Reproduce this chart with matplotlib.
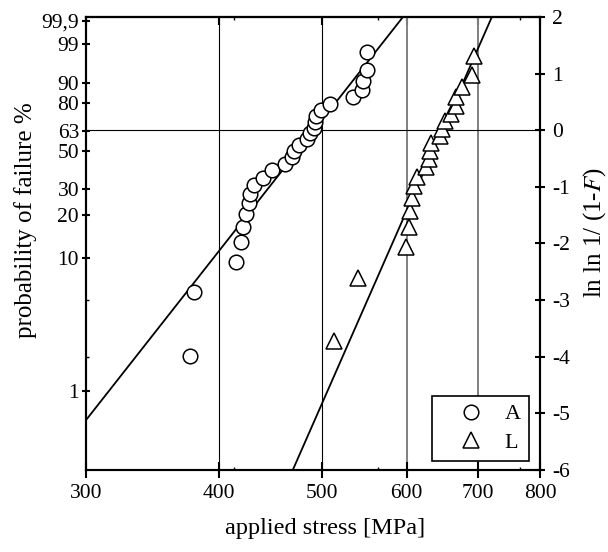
import numpy as np
import matplotlib
matplotlib.use('Agg')
import matplotlib.pyplot as plt
from matplotlib.ticker import FixedLocator, FixedFormatter, NullFormatter

plt.rcParams['font.family'] = ['Liberation Serif', 'DejaVu Serif']
plt.rcParams['mathtext.fontset'] = 'stix'
plt.rcParams['axes.unicode_minus'] = False

# series A (circles): stress [MPa] and probability of failure [%]
stress_A = [376, 379, 415, 419, 421, 424, 427, 428, 431, 440, 448, 461, 468, 470,
            475, 484, 487, 491, 492, 493, 498, 508, 534, 545, 546, 550, 551]
prob_A = [1.85, 5.56, 9.26, 12.96, 16.67, 20.37, 24.07, 27.78, 31.48, 35.19, 38.89,
          42.59, 46.30, 50.00, 53.70, 57.41, 61.11, 64.81, 68.52, 72.22, 75.93,
          79.63, 83.33, 87.04, 90.74, 94.44, 98.15]

# series L (triangles)
stress_L = [513, 540, 599, 603, 604, 607, 610, 614, 626, 630, 631, 632, 644, 648,
            652, 660, 667, 668, 676, 691, 694]
prob_L = [2.38, 7.14, 11.90, 16.67, 21.43, 26.19, 30.95, 35.71, 40.48, 45.24, 50.00,
          54.76, 59.52, 64.29, 69.05, 73.81, 78.57, 83.33, 88.10, 92.86, 97.62]

# fitted Weibull lines (end points)
fit_A_stress = [300, 595]
fit_A_lnln = [-5.12, 2]
fit_L_stress = [469, 721]
fit_L_lnln = [-6, 2]

prob_ticks = [99.9, 99, 90, 80, 63, 50, 30, 20, 10, 1]
prob_labels = ['99,9', '99', '90', '80', '63', '50', '30', '20', '10', '1']
lnln_ticks = [-6, -5, -4, -3, -2, -1, 0, 1, 2]
stress_ticks = [300, 400, 500, 600, 700, 800]
stress_minor = [413, 564, 766]


def lnln(p):
    return np.log(-np.log(1 - np.asarray(p) / 100.0))


fig = plt.figure(figsize=(6.08, 5.52), dpi=100)
ax = fig.add_axes([0.1414, 0.1486, 0.7467, 0.8206])
ax.set_xscale('log')
ax.set_xlim(300, 800)
ax.set_ylim(-6, 2)

for s in [400, 500]:
    ax.axvline(s, color='black', lw=0.8, zorder=1)
for s in [600, 700]:
    ax.axvline(s, color='#808080', lw=1.4, zorder=1)
ax.axhline(0, color='black', lw=0.8, zorder=1)

ax.plot(fit_A_stress, fit_A_lnln, color='black', lw=1.3, zorder=2)
ax.plot(fit_L_stress, fit_L_lnln, color='black', lw=1.3, zorder=2)
ax.plot(stress_A, lnln(prob_A), 'o', ms=10.5, mfc='white', mec='black', mew=1.1,
        ls='none', label='A', zorder=3)
ax.plot(stress_L, lnln(prob_L), '^', ms=11, mfc='white', mec='black', mew=1.1,
        ls='none', label='L', zorder=3)

# x axis
ax.xaxis.set_major_locator(FixedLocator(stress_ticks))
ax.xaxis.set_major_formatter(FixedFormatter([str(s) for s in stress_ticks]))
ax.xaxis.set_minor_locator(FixedLocator(stress_minor))
ax.xaxis.set_minor_formatter(NullFormatter())
ax.tick_params(axis='x', which='major', direction='inout', length=12, width=1.5,
               labelsize=15.5, pad=4)
ax.tick_params(axis='x', which='minor', direction='in', length=2.5, width=1)

top = ax.secondary_xaxis('top')
top.xaxis.set_major_locator(FixedLocator(stress_ticks))
top.xaxis.set_minor_locator(FixedLocator(stress_minor))
top.xaxis.set_major_formatter(NullFormatter())
top.xaxis.set_minor_formatter(NullFormatter())
top.tick_params(axis='x', which='major', direction='in', length=6, width=1.5)
top.tick_params(axis='x', which='minor', direction='in', length=2.5, width=1)
top.spines['top'].set_linewidth(1.5)

# left axis: probability
ax.yaxis.set_major_locator(FixedLocator(lnln(prob_ticks)))
ax.yaxis.set_major_formatter(FixedFormatter(prob_labels))
ax.yaxis.set_minor_locator(FixedLocator([-3, -4]))
ax.tick_params(axis='y', which='major', direction='inout', length=6, width=1.5,
               labelsize=15.5, pad=2)
ax.tick_params(axis='y', which='minor', direction='in', length=2.5, width=1)

# right axis: ln ln 1/(1-F)
ax2 = ax.twinx()
ax2.set_ylim(-6, 2)
ax2.set_yticks(lnln_ticks)
ax2.set_yticklabels([str(v) for v in lnln_ticks])
ax2.tick_params(axis='y', direction='inout', length=7, width=1.5, labelsize=15.5, pad=5)

for a in (ax, ax2):
    for sp in a.spines.values():
        sp.set_linewidth(1.5)

ax.set_xlabel('applied stress [MPa]', fontsize=17.5)
ax.xaxis.set_label_coords(0.527, -0.107)
ax.set_ylabel('probability of failure %', fontsize=18)
ax.yaxis.set_label_coords(-0.108, 0.552)
ax2.set_ylabel(r'ln ln 1/ (1-$F$)', fontsize=18)
ax2.yaxis.set_label_coords(1.09, 0.525)

leg = ax.legend(loc='lower right', bbox_to_anchor=(0.976, 0.02), fancybox=False,
                framealpha=1, edgecolor='black', fontsize=16, borderpad=0.37,
                labelspacing=0.35, handlelength=2.8, handletextpad=0.1,
                borderaxespad=0)
leg.get_frame().set_linewidth(1.2)
leg.set_zorder(5)

fig.savefig('out.png', dpi=100)
